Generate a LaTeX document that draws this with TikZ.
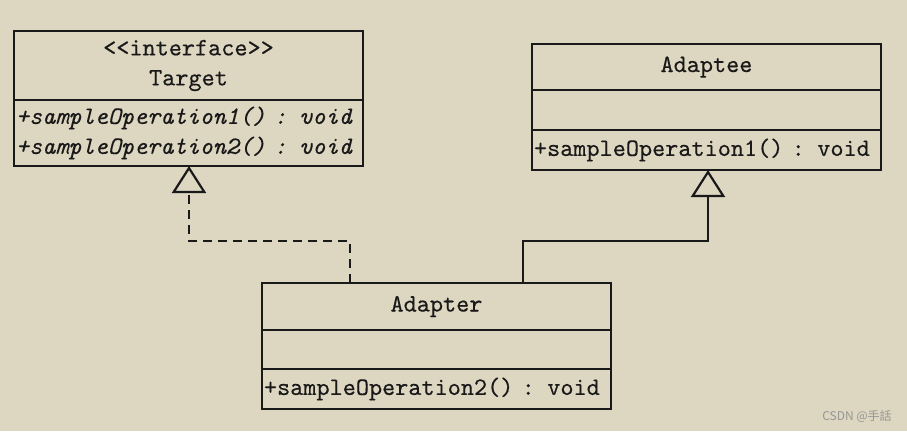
\documentclass[tikz,border=0pt]{standalone}
\usepackage{fontspec}
\newfontfamily\cjkfont{Noto Sans CJK SC}
\newfontfamily\umlmono{lmmono10-regular.otf}[ItalicFont=lmmono10-italic.otf, UprightFeatures={FakeBold=0.35}, ItalicFeatures={FakeBold=0.2}]
\usetikzlibrary{positioning,arrows.meta}
\definecolor{paper}{RGB}{221,214,192}
\definecolor{ink}{RGB}{25,25,25}
\definecolor{markgray}{RGB}{150,150,150}
\newcommand{\umlfont}{\umlmono\fontsize{25}{30}\selectfont}

\tikzset{
  compart/.style={draw=ink, line width=2.5pt, outer sep=0pt, minimum width=349pt, inner sep=0pt, text=ink, font=\umlfont},
  headbox/.style={compart, align=center},
  opsbox/.style={compart, align=left, text width=345pt},
  hollow/.style={-{Triangle[open, length=27pt, width=34pt, line width=2.2pt]}},
  realize/.style={line width=1.6pt, draw=ink, dash pattern=on 9pt off 6pt, hollow},
  inherit/.style={line width=1.6pt, draw=ink, hollow},
}

\begin{document}
\begin{tikzpicture}[x=1pt,y=-1pt]
  \fill[paper] (0,0) rectangle (907,431);
  \useasboundingbox (0,0) rectangle (907,431);

  % Target
  \node[headbox, minimum height=69pt, anchor=north west] (target-head) at (14,31) {<<interface>>\\Target};
  \node[opsbox, minimum height=66pt, below=0pt of target-head, font=\umlfont\itshape] (target-ops) {+sampleOperation1() : void\\+sampleOperation2() : void};

  % Adaptee
  \node[headbox, minimum height=46pt, anchor=north west] (adaptee-head) at (532,44) {Adaptee};
  \node[compart, minimum height=40pt, below=0pt of adaptee-head] (adaptee-attr) {};
  \node[opsbox, minimum height=40pt, below=0pt of adaptee-attr] (adaptee-ops) {+sampleOperation1() : void};

  % Adapter
  \node[headbox, minimum height=47pt, anchor=north west] (adapter-head) at (262,283) {Adapter};
  \node[compart, minimum height=39pt, below=0pt of adapter-head] (adapter-attr) {};
  \node[opsbox, minimum height=40pt, below=0pt of adapter-attr] (adapter-ops) {+sampleOperation2() : void};

  \draw[realize] ([xshift=88pt]adapter-head.north west) -- ++(0,-42) -| ([xshift=175pt]target-ops.south west);
  \draw[inherit] ([xshift=261pt]adapter-head.north west) -- ++(0,-42) -| ([xshift=176pt]adaptee-ops.south west);

  \node[font=\cjkfont\fontsize{12}{12}\selectfont, text=markgray] (mark) at (857,416) {CSDN @手話};
\end{tikzpicture}
\end{document}
